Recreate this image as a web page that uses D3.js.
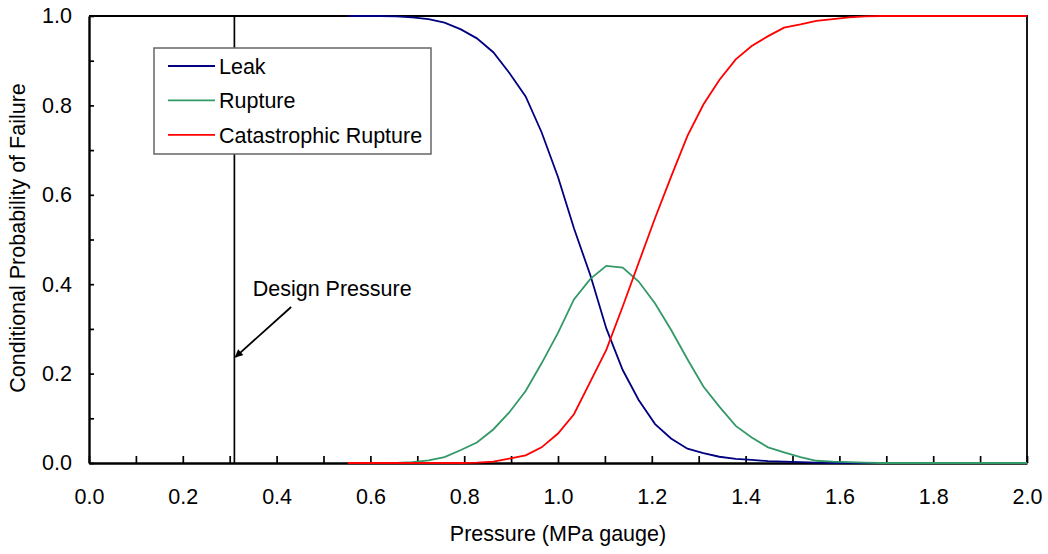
<!DOCTYPE html>
<html>
<head>
<meta charset="utf-8">
<script src="https://cdn.jsdelivr.net/npm/d3@7"></script>
<style>
    body { margin: 0; background: #fff; }
    svg text { font-family: "Liberation Sans", Arial, sans-serif; fill: #000; }
</style>
</head>
<body>
<svg id="chart" width="1048" height="554"></svg>
<script>
// Pressure points (MPa gauge)
const pressure = [0.552, 0.586, 0.621, 0.655, 0.689, 0.724, 0.758, 0.793, 0.827, 0.862,
    0.896, 0.931, 0.965, 1.000, 1.034, 1.069, 1.103, 1.138, 1.172, 1.207,
    1.241, 1.276, 1.310, 1.344, 1.379, 1.413, 1.448, 1.482, 1.517, 1.551,
    1.586, 1.620, 1.655, 1.689, 1.724, 1.758, 1.793, 1.827, 1.862, 1.896,
    1.931, 1.965, 2.000];

const leak = [1.000, 1.000, 1.000, 0.999, 0.997, 0.993, 0.985, 0.970, 0.950, 0.919,
    0.873, 0.820, 0.740, 0.640, 0.525, 0.420, 0.301, 0.208, 0.141, 0.087,
    0.055, 0.032, 0.022, 0.014, 0.009, 0.007, 0.004, 0.003, 0.002, 0.001,
    0, 0, 0, 0, 0, 0, 0, 0, 0, 0,
    0, 0, 0];

const rupture = [0, 0, 0, 0, 0.002, 0.006, 0.013, 0.029, 0.046, 0.075,
    0.113, 0.161, 0.223, 0.291, 0.366, 0.412, 0.441, 0.437, 0.406, 0.357,
    0.298, 0.232, 0.171, 0.126, 0.083, 0.057, 0.035, 0.024, 0.013, 0.005,
    0.003, 0.002, 0.001, 0, 0, 0, 0, 0, 0, 0,
    0, 0, 0];

const catastrophic = [0, 0, 0, 0, 0, 0, 0, 0, 0.001, 0.003,
    0.010, 0.017, 0.035, 0.066, 0.109, 0.182, 0.253, 0.350, 0.448, 0.548,
    0.640, 0.732, 0.802, 0.857, 0.903, 0.933, 0.955, 0.974, 0.981, 0.989,
    0.993, 0.997, 0.999, 1, 1, 1, 1, 1, 1, 1,
    1, 1, 1];

const seriesNames = ["Leak", "Rupture", "Catastrophic Rupture"];
const seriesValues = [leak, rupture, catastrophic];
const seriesColors = ["#000080", "#339966", "#ff0000"];

const xTicks = [0, 0.1, 0.2, 0.3, 0.4, 0.5, 0.6, 0.7, 0.8, 0.9, 1.0,
    1.1, 1.2, 1.3, 1.4, 1.5, 1.6, 1.7, 1.8, 1.9, 2.0];
const yTicks = [0, 0.1, 0.2, 0.3, 0.4, 0.5, 0.6, 0.7, 0.8, 0.9, 1.0];

// Design pressure annotation
const designPressure = 0.31;
const designLabel = "Design Pressure";

const svg = d3.select("#chart");
const fontSize = 21.5;

// Plot area edges in pixels
const plotLeft = 89, plotRight = 1027, plotTop = 16, plotBottom = 463;

const x = d3.scaleLinear().domain([0, 2]).range([plotLeft, plotRight]);
const y = d3.scaleLinear().domain([0, 1]).range([plotBottom, plotTop]);

// Only every second tick carries a label
const everyOther = d => (Math.round(d * 10) % 2 === 0 ? d3.format(".1f")(d) : "");

// X axis, ticks point into the plot
const xAxis = svg.append("g")
    .attr("transform", `translate(0,${plotBottom})`)
    .call(d3.axisBottom(x).tickValues(xTicks).tickFormat(everyOther)
        .tickSize(-7).tickSizeOuter(0).tickPadding(26));

// Y axis
const yAxis = svg.append("g")
    .attr("transform", `translate(${plotLeft},0)`)
    .call(d3.axisLeft(y).tickValues(yTicks).tickFormat(everyOther)
        .tickSize(-5).tickSizeOuter(0).tickPadding(17));

[xAxis, yAxis].forEach(g => {
    g.select(".domain").attr("stroke", "#000").attr("stroke-width", 2.4);
    g.selectAll(".tick line").attr("stroke", "#000").attr("stroke-width", 1.7);
    g.selectAll(".tick text").style("font-size", fontSize + "px").attr("fill", "#000");
});

// Top and right frame lines
svg.append("path")
    .attr("d", `M${plotLeft},${plotTop}H${plotRight}V${plotBottom}`)
    .attr("fill", "none")
    .attr("stroke", "#000")
    .attr("stroke-width", 1.8);

// Design pressure vertical line
svg.append("line")
    .attr("x1", x(designPressure)).attr("x2", x(designPressure))
    .attr("y1", y(1)).attr("y2", y(0))
    .attr("stroke", "#000")
    .attr("stroke-width", 1.7);

// Arrow head marker
svg.append("defs").append("marker")
    .attr("id", "arrow")
    .attr("viewBox", "0 0 10 10")
    .attr("refX", 9).attr("refY", 5)
    .attr("markerWidth", 9).attr("markerHeight", 8)
    .attr("markerUnits", "userSpaceOnUse")
    .attr("orient", "auto")
    .append("path")
    .attr("d", "M0,0L10,5L0,10z")
    .attr("fill", "#000");

// Arrow from label to the design line
svg.append("line")
    .attr("x1", x(0.431)).attr("y1", y(0.349))
    .attr("x2", x(designPressure) + 1).attr("y2", y(0.237))
    .attr("stroke", "#000")
    .attr("stroke-width", 1.8)
    .attr("marker-end", "url(#arrow)");

svg.append("text")
    .attr("x", x(0.349))
    .attr("y", y(0.374))
    .style("font-size", fontSize + "px")
    .text(designLabel);

// Series lines
const line = d3.line()
    .x((d, i) => x(pressure[i]))
    .y(d => y(d));

seriesValues.forEach((vals, i) => {
    svg.append("path")
        .datum(vals)
        .attr("d", line)
        .attr("fill", "none")
        .attr("stroke", seriesColors[i])
        .attr("stroke-width", 1.8);
});

// Legend box
const legend = svg.append("g").attr("transform", "translate(154,48)");
legend.append("rect")
    .attr("width", 277).attr("height", 106)
    .attr("fill", "#fff")
    .attr("stroke", "#666")
    .attr("stroke-width", 1.5);

seriesNames.forEach((name, i) => {
    const rowY = 18 + i * 34.4;
    legend.append("line")
        .attr("x1", 14).attr("x2", 61)
        .attr("y1", rowY).attr("y2", rowY)
        .attr("stroke", seriesColors[i])
        .attr("stroke-width", 1.8);
    legend.append("text")
        .attr("x", 65).attr("y", rowY)
        .attr("dy", "0.36em")
        .style("font-size", fontSize + "px")
        .text(name);
});

// Axis titles
svg.append("text")
    .attr("x", (plotLeft + plotRight) / 2)
    .attr("y", 541)
    .attr("text-anchor", "middle")
    .style("font-size", fontSize + "px")
    .text("Pressure (MPa gauge)");

svg.append("text")
    .attr("transform", "translate(25,238) rotate(-90)")
    .attr("text-anchor", "middle")
    .style("font-size", fontSize + "px")
    .text("Conditional Probability of Failure");
</script>
</body>
</html>
